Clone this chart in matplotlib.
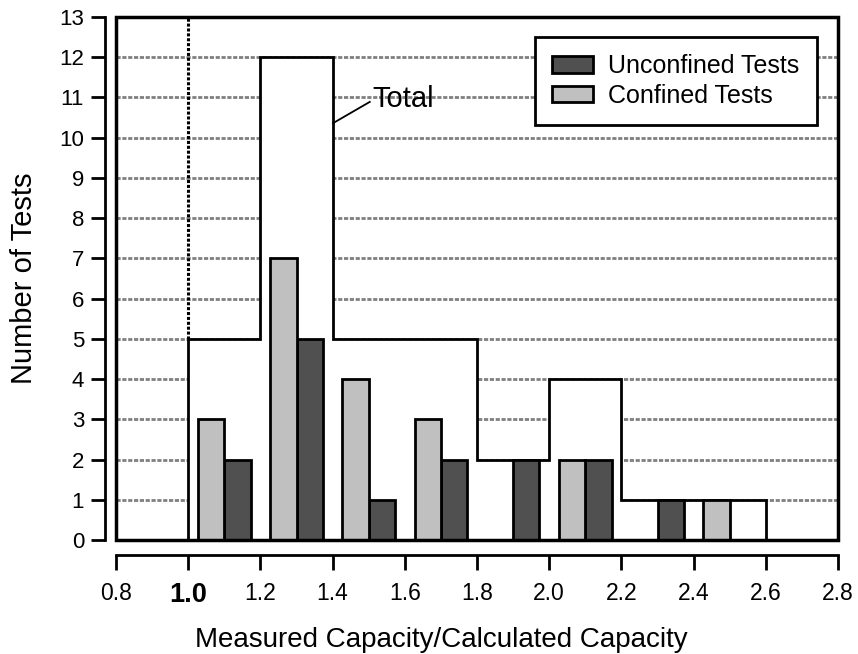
import numpy as np
import matplotlib.pyplot as plt
from matplotlib.patches import Rectangle

plt.rcParams['font.family'] = ['Liberation Sans', 'DejaVu Sans']

# bins of measured/calculated capacity
edges = [1.0, 1.2, 1.4, 1.6, 1.8, 2.0, 2.2, 2.4, 2.6]
confined = [3, 7, 4, 3, 0, 2, 0, 1]
unconfined = [2, 5, 1, 2, 2, 2, 1, 0]
total = [5, 12, 5, 5, 2, 4, 1, 1]
xticks = [0.8, 1.0, 1.2, 1.4, 1.6, 1.8, 2.0, 2.2, 2.4, 2.6, 2.8]

fig = plt.figure(figsize=(8.58, 6.54), dpi=100)
ax = fig.add_axes([116/858, 1-540/654, 722/858, 523/654])

left = np.array(edges[:-1])
mid = left + 0.1
bw = 0.073

# gridlines
for yy in range(1, 13):
    ax.axhline(yy, color='#808080', lw=2, ls=(0, (1.5, 0.6)), zorder=0.5)

# total outline, white filled
ax.stairs(total, edges, fill=True, color='white', zorder=1)
ax.stairs(total, edges, baseline=0, color='black', lw=2, zorder=1.5)

# bars
ax.bar(mid, unconfined, width=bw, align='edge', color='#505050',
       edgecolor='black', lw=2, zorder=2, label='Unconfined Tests')
ax.bar(mid, confined, width=-bw, align='edge', color='#c0c0c0',
       edgecolor='black', lw=2, zorder=2, label='Confined Tests')

# reference line at 1.0
ax.plot([1.0, 1.0], [5, 13], color='black', lw=2.2, ls=(0, (1, 0.6)), zorder=1.2)

# total label
ax.plot([1.401, 1.503], [10.36, 10.89], color='black', lw=1.3, zorder=2)
ax.text(1.510, 10.97, 'Total', fontsize=21, ha='left', va='center', zorder=3)

ax.set_xlim(0.8, 2.8)
ax.set_ylim(0, 13)

# frame
ax.add_patch(Rectangle((0, 0), 1, 1, transform=ax.transAxes, fill=False,
                       lw=2.5, edgecolor='black', zorder=4, clip_on=False))
ax.spines['top'].set_visible(False)
ax.spines['right'].set_visible(False)
ax.spines['left'].set_position(('outward', 8))
ax.spines['bottom'].set_position(('outward', 11))
ax.spines['left'].set_bounds(0, 13)
ax.spines['bottom'].set_bounds(0.8, 2.8)
for s in ['left', 'bottom']:
    ax.spines[s].set_linewidth(2)

ax.set_yticks(range(0, 14))
ax.set_xticks(xticks)
ax.set_xticklabels(['%.1f' % v for v in xticks])
ax.tick_params(axis='both', width=2, direction='out')
ax.tick_params(axis='y', length=10, pad=5, labelsize=16)
ax.tick_params(axis='x', length=11, pad=8, labelsize=16.5)
for lab in ax.get_xticklabels():
    if lab.get_text() == '1.0':
        lab.set_fontweight('bold')
        lab.set_fontsize(19.5)

ax.set_xlabel('Measured Capacity/Calculated Capacity', fontsize=20, labelpad=14)
ax.xaxis.label.set_x(0.45)
ax.set_ylabel('Number of Tests', fontsize=21, labelpad=15)

leg = ax.legend(loc='upper right', bbox_to_anchor=(0.971, 0.962), fontsize=18,
                frameon=True, fancybox=False, edgecolor='black',
                handlelength=1.65, handleheight=0.65, borderpad=0.7,
                labelspacing=0.22, handletextpad=0.6, borderaxespad=0)
leg.get_frame().set_linewidth(2)
leg.set_zorder(5)
leg.get_frame().set_alpha(1)

fig.savefig('out.png', dpi=100)
